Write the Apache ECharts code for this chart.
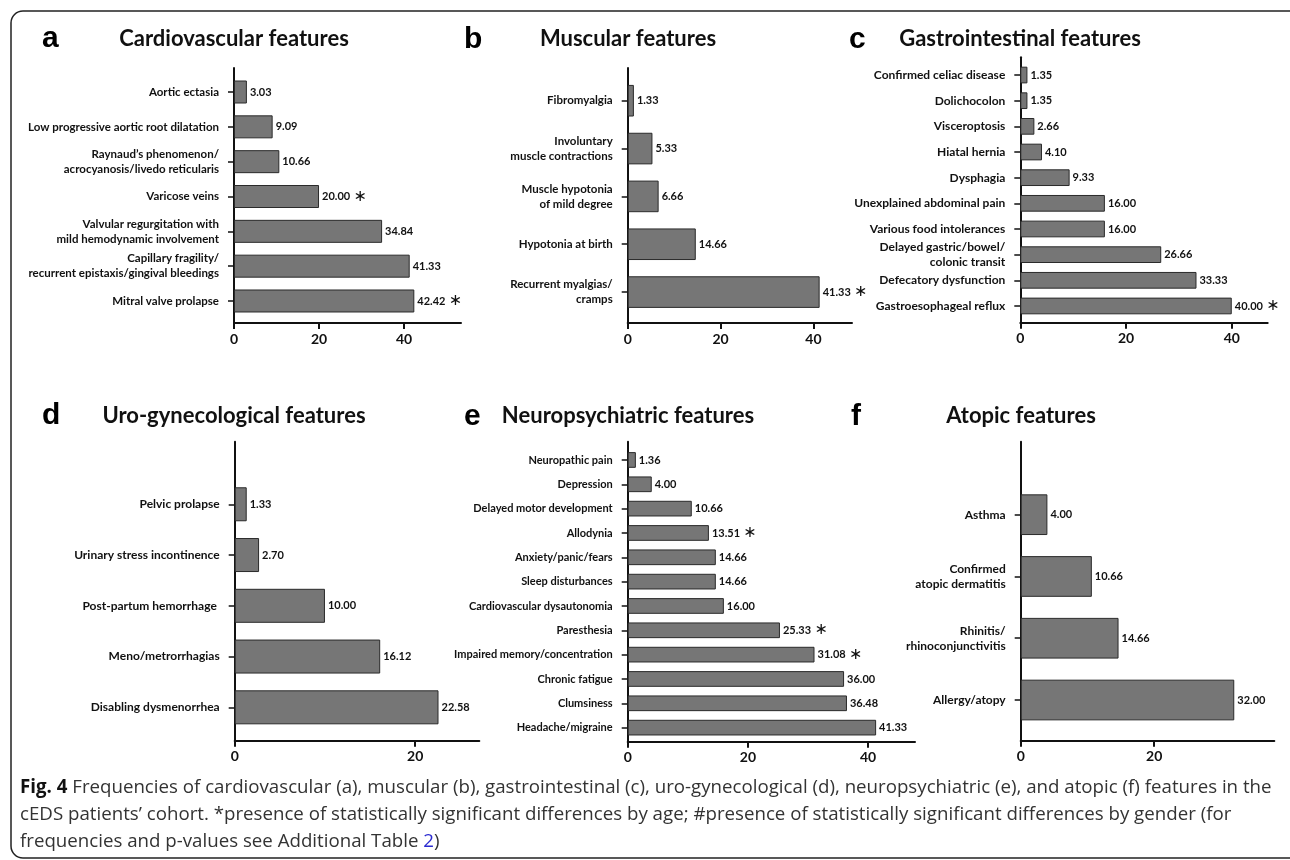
<!DOCTYPE html>
<html>
<head>
<meta charset="utf-8">
<script src="https://cdn.jsdelivr.net/npm/echarts@6/dist/echarts.min.js"></script>
<style>
html,body{margin:0;padding:0;background:#fff;}
#chart{width:1290px;height:860px;}
</style>
</head>
<body>
<div id="chart"></div>
<script>
// ---------- DATA ----------
const catsA = ['Aortic ectasia', 'Low progressive aortic root dilatation', 'Raynaud’s phenomenon/\nacrocyanosis/livedo reticularis', 'Varicose veins', 'Valvular regurgitation with\nmild hemodynamic involvement', 'Capillary fragility/\nrecurrent epistaxis/gingival bleedings', 'Mitral valve prolapse'];
const valsA = [3.03, 9.09, 10.66, 20.00, 34.84, 41.33, 42.42];
const sigA  = [0, 0, 0, 1, 0, 0, 1];

const catsB = ['Fibromyalgia', 'Involuntary\nmuscle contractions', 'Muscle hypotonia\nof mild degree', 'Hypotonia at birth', 'Recurrent myalgias/\ncramps'];
const valsB = [1.33, 5.33, 6.66, 14.66, 41.33];
const sigB  = [0, 0, 0, 0, 1];

const catsC = ['Confirmed celiac disease', 'Dolichocolon', 'Visceroptosis', 'Hiatal hernia', 'Dysphagia', 'Unexplained abdominal pain', 'Various food intolerances', 'Delayed gastric/bowel/\ncolonic transit', 'Defecatory dysfunction', 'Gastroesophageal reflux'];
const valsC = [1.35, 1.35, 2.66, 4.10, 9.33, 16.00, 16.00, 26.66, 33.33, 40.00];
const sigC  = [0, 0, 0, 0, 0, 0, 0, 0, 0, 1];

const catsD = ['Pelvic prolapse', 'Urinary stress incontinence', 'Post-partum hemorrhage ', 'Meno/metrorrhagias', 'Disabling dysmenorrhea'];
const valsD = [1.33, 2.70, 10.00, 16.12, 22.58];
const sigD  = [0, 0, 0, 0, 0];

const catsE = ['Neuropathic pain', 'Depression', 'Delayed motor development', 'Allodynia', 'Anxiety/panic/fears', 'Sleep disturbances', 'Cardiovascular dysautonomia', 'Paresthesia', 'Impaired memory/concentration', 'Chronic fatigue', 'Clumsiness', 'Headache/migraine'];
const valsE = [1.36, 4.00, 10.66, 13.51, 14.66, 14.66, 16.00, 25.33, 31.08, 36.00, 36.48, 41.33];
const sigE  = [0, 0, 0, 1, 0, 0, 0, 1, 1, 0, 0, 0];

const catsF = ['Asthma', 'Confirmed\natopic dermatitis', 'Rhinitis/\nrhinoconjunctivitis', 'Allergy/atopy'];
const valsF = [4.00, 10.66, 14.66, 32.00];
const sigF  = [0, 0, 0, 0];

const ticksA = [0, 20, 40];
const ticksB = [0, 20, 40];
const ticksC = [0, 20, 40];
const ticksD = [0, 20];
const ticksE = [0, 20, 40];
const ticksF = [0, 20];

const titles = ['Cardiovascular features', 'Muscular features', 'Gastrointestinal features', 'Uro-gynecological features', 'Neuropsychiatric features', 'Atopic features'];
const letters = ['a', 'b', 'c', 'd', 'e', 'f'];

// ---------- LAYOUT (positions / styles only) ----------
const panels = [
  {cats: catsA, vals: valsA, sig: sigA, ticks: ticksA, x0: 234,   xr: 461,   max: 53.4, aTop: 68,    aBot: 323,   bTop: 74.6,  bBot: 318.4, barW: 23,
   tx: 234, ty: 50, lx: 42, ly: 54, fs: 11.5},
  {cats: catsB, vals: valsB, sig: sigB, ticks: ticksB, x0: 627.7, xr: 852,   max: 48.3, aTop: 68,    aBot: 323,   bTop: 76.8,  bBot: 316,   barW: 31.6,
   tx: 628, ty: 50, lx: 464, ly: 55, fs: 11.5},
  {cats: catsC, vals: valsC, sig: sigC, ticks: ticksC, x0: 1020.3,xr: 1267.7,max: 46.8, aTop: 57.3,  aBot: 322.7, bTop: 62.2,  bBot: 318.8, barW: 16.7,
   tx: 1020, ty: 50, lx: 849, ly: 55, fs: 12},
  {cats: catsD, vals: valsD, sig: sigD, ticks: ticksD, x0: 234.7, xr: 479.3, max: 27.1, aTop: 441.7, aBot: 740.7, bTop: 478.9, bBot: 732.7, barW: 34,
   tx: 234, ty: 427, lx: 42, ly: 431, fs: 12},
  {cats: catsE, vals: valsE, sig: sigE, ticks: ticksE, x0: 627.7, xr: 915,   max: 47.8, aTop: 441.7, aBot: 741.7, bTop: 447.8, bBot: 739.8, barW: 15.7,
   tx: 628, ty: 427, lx: 464, ly: 432, fs: 11},
  {cats: catsF, vals: valsF, sig: sigF, ticks: ticksF, x0: 1020.7,xr: 1274.3,max: 38.0, aTop: 441.7, aBot: 740.7, bTop: 483.8, bBot: 730.9, barW: 40.7,
   tx: 1021, ty: 427, lx: 851, ly: 432, fs: 12}
];

const LBL_FONT = 'Lato';
const INK = '#111';

const grid = [], xAxis = [], yAxis = [], series = [], graphic = [];

panels.forEach((p, i) => {
  const fi = i * 2, di = i * 2 + 1;
  grid.push({left: p.x0, top: p.aTop, width: p.xr - p.x0, height: p.aBot - p.aTop, containLabel: false});
  grid.push({left: p.x0, top: p.bTop, width: p.xr - p.x0, height: p.bBot - p.bTop, containLabel: false});

  xAxis.push({
    gridIndex: fi, type: 'value', min: 0, max: p.max,
    axisLine: {show: true, lineStyle: {color: INK, width: 2}},
    axisTick: {show: true, customValues: p.ticks, length: 6, lineStyle: {color: INK, width: 2}},
    axisLabel: {show: true, customValues: p.ticks, margin: 9, color: INK, fontFamily: LBL_FONT, fontWeight: 'bold', fontSize: 14},
    splitLine: {show: false}
  });
  yAxis.push({
    gridIndex: fi, type: 'value', min: 0, max: 1,
    axisLine: {show: true, lineStyle: {color: INK, width: 2}},
    axisTick: {show: false}, axisLabel: {show: false}, splitLine: {show: false}
  });
  xAxis.push({gridIndex: di, type: 'value', min: 0, max: p.max, show: false});
  yAxis.push({
    gridIndex: di, type: 'category', inverse: true, data: p.cats,
    axisLine: {show: false},
    axisTick: {show: true, alignWithLabel: true, length: 6, lineStyle: {color: INK, width: 1.5}},
    axisLabel: {show: true, margin: 15, color: INK, fontFamily: LBL_FONT, fontWeight: 'bold', fontSize: p.fs, lineHeight: 15, align: 'right'},
    splitLine: {show: false}
  });
  const sig = p.sig;
  series.push({
    type: 'bar', xAxisIndex: di, yAxisIndex: di, data: p.vals, barWidth: p.barW,
    itemStyle: {color: '#767676', borderColor: '#2a2a2a', borderWidth: 1},
    label: {
      show: true, position: 'right', distance: 3,
      formatter: (q) => {
        const v = Number(q.value).toFixed(2);
        return sig[q.dataIndex] ? '{v|' + v + '} {s|\u2217}' : '{v|' + v + '}';
      },
      rich: {
        v: {fontFamily: LBL_FONT, fontWeight: 'bold', fontSize: 11, color: INK},
        s: {fontFamily: 'DejaVu Sans', fontSize: 16, color: INK}
      }
    },
    silent: true, animation: false
  });

  graphic.push({
    type: 'text', x: p.tx, y: p.ty,
    style: {text: titles[i], fill: INK, font: 'bold 22px Lato', textAlign: 'center', textVerticalAlign: 'bottom'}
  });
  graphic.push({
    type: 'text', x: p.lx, y: p.ly,
    style: {text: letters[i], fill: '#000', font: 'bold 30px "Liberation Sans"', textAlign: 'left', textVerticalAlign: 'bottom'}
  });
});

// frame
graphic.push({
  type: 'rect', shape: {x: 11, y: 11, width: 1300, height: 847, r: 12}, z: -1,
  style: {fill: 'none', stroke: '#222', lineWidth: 1.5}
});
// caption
const capFont = '18.7px "Open Sans"';
graphic.push({
  type: 'text', x: 20, y: 788,
  style: {
    text: '{b|Fig. 4} Frequencies of cardiovascular (a), muscular (b), gastrointestinal (c), uro-gynecological (d), neuropsychiatric (e), and atopic (f) features in the',
    textVerticalAlign: 'middle', fill: '#333', font: capFont,
    rich: {b: {fontFamily: 'Open Sans', fontWeight: 'bold', fontSize: 18.7, fill: '#111'}}
  }
});
graphic.push({
  type: 'text', x: 20, y: 815,
  style: {
    text: 'cEDS patients’ cohort. *presence of statistically significant differences by age; #presence of statistically significant differences by gender (for',
    textVerticalAlign: 'middle', fill: '#333', font: capFont
  }
});
graphic.push({
  type: 'text', x: 20, y: 842,
  style: {
    text: 'frequencies and p-values see Additional Table {l|2})',
    textVerticalAlign: 'middle', fill: '#333', font: capFont,
    rich: {l: {fontFamily: 'Open Sans', fontSize: 18.7, fill: '#2a2ad0'}}
  }
});

const chart = echarts.init(document.getElementById('chart'), null, {renderer: 'canvas'});
chart.setOption({
  backgroundColor: '#fff',
  animation: false,
  grid, xAxis, yAxis, series, graphic
});
</script>
</body>
</html>
